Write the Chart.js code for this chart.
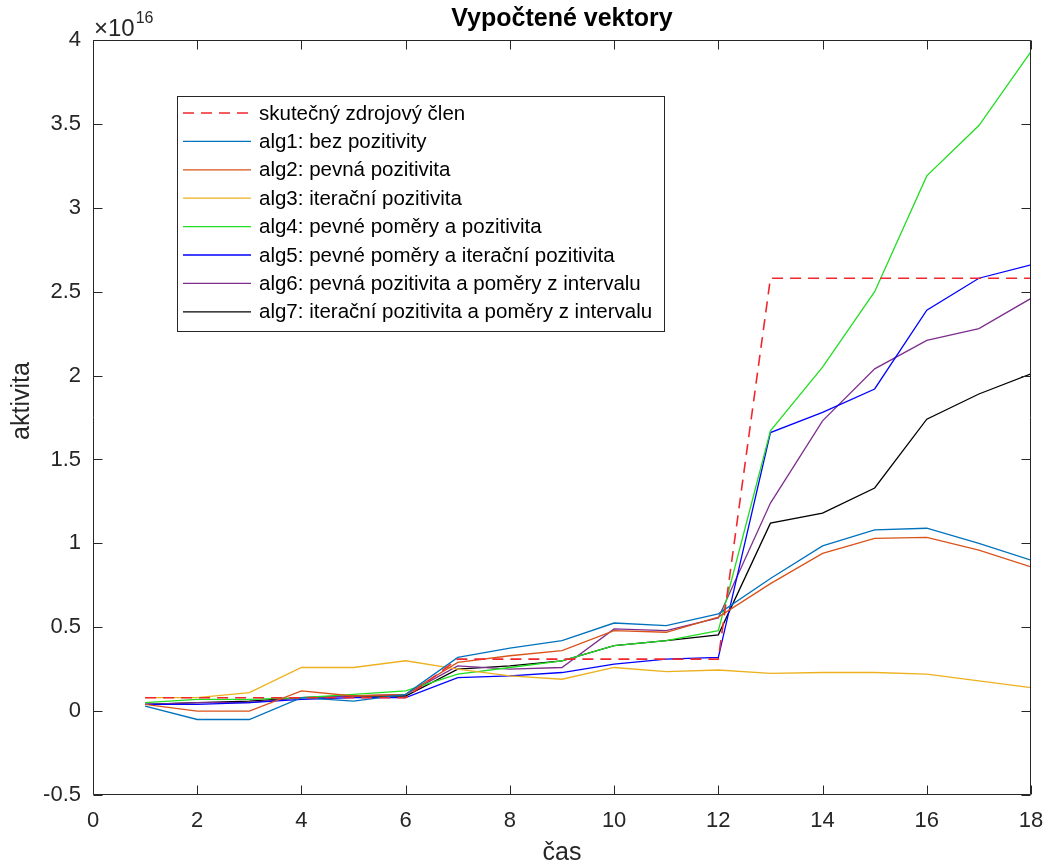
<!DOCTYPE html>
<html>
<head>
<meta charset="utf-8">
<script src="https://cdn.jsdelivr.net/npm/chart.js@4/dist/chart.umd.min.js"></script>
<style>
html,body{margin:0;padding:0;background:#fff;}
#wrap{width:1048px;height:866px;}
</style>
</head>
<body>
<div id="wrap"><canvas id="c" width="1048" height="866"></canvas></div>
<script>
// values are in units of 10^16
const EXPONENT = 16;
const time = [1,2,3,4,5,6,7,8,9,10,11,12,13,14,15,16,17,18];
const source = [0.08,0.08,0.08,0.08,0.08,0.08,0.31,0.31,0.31,0.31,0.31,0.31,2.58,2.58,2.58,2.58,2.58,2.58];
const alg1 = [0.03,-0.05,-0.05,0.08,0.06,0.10,0.32,0.375,0.42,0.525,0.51,0.58,0.79,0.985,1.08,1.09,1.00,0.90];
const alg2 = [0.04,0.00,0.00,0.12,0.09,0.10,0.29,0.33,0.36,0.48,0.47,0.56,0.76,0.94,1.03,1.035,0.96,0.86];
const alg3 = [0.08,0.08,0.11,0.26,0.26,0.30,0.25,0.21,0.19,0.26,0.235,0.245,0.225,0.23,0.23,0.22,0.18,0.14];
const alg4 = [0.05,0.07,0.07,0.08,0.10,0.12,0.22,0.26,0.30,0.39,0.42,0.48,1.67,2.05,2.50,3.19,3.49,3.93];
const alg5 = [0.04,0.04,0.05,0.07,0.08,0.08,0.20,0.21,0.23,0.28,0.31,0.32,1.66,1.78,1.92,2.39,2.58,2.66];
const alg6 = [0.04,0.05,0.05,0.08,0.09,0.10,0.27,0.25,0.26,0.49,0.48,0.555,1.24,1.73,2.04,2.21,2.28,2.46];
const alg7 = [0.04,0.05,0.06,0.08,0.09,0.09,0.25,0.27,0.30,0.39,0.42,0.455,1.12,1.18,1.33,1.74,1.89,2.01];
const labels = [
  'skutečný zdrojový člen',
  'alg1: bez pozitivity',
  'alg2: pevná pozitivita',
  'alg3: iterační pozitivita',
  'alg4: pevné poměry a pozitivita',
  'alg5: pevné poměry a iterační pozitivita',
  'alg6: pevná pozitivita a poměry z intervalu',
  'alg7: iterační pozitivita a poměry z intervalu'
];
const colors = ['#F0282E','#0072BD','#D95319','#EDB120','#22DD22','#0000FF','#7E2F8E','#000000'];
const seriesList = [source, alg1, alg2, alg3, alg4, alg5, alg6, alg7];
const xTicks = [0,2,4,6,8,10,12,14,16,18];
const yTicks = [-0.5,0,0.5,1,1.5,2,2.5,3,3.5,4];
const yLabel = 'aktivita';

const FONT = "'Liberation Sans', Arial, Helvetica, sans-serif";

const datasets = seriesList.map((s, i) => ({
  label: labels[i],
  data: s.map((v, k) => ({x: time[k], y: v})),
  borderColor: colors[i],
  backgroundColor: colors[i],
  borderWidth: i === 0 ? 1.6 : 1.3,
  borderDash: i === 0 ? [11, 7] : [],
  pointRadius: 0,
  fill: false,
  tension: 0
}));
const fmt = v => (Math.round(v * 10) / 10).toString();

const boxPlugin = {
  id: 'box',
  afterDraw(chart) {
    const ctx = chart.ctx;
    const a = chart.chartArea;
    const xs = chart.scales.x, ys = chart.scales.y;
    ctx.save();
    ctx.strokeStyle = '#262626';
    ctx.lineWidth = 1;
    const L = Math.round(a.left) + 0.5, R = Math.round(a.right) - 0.5;
    const T = Math.round(a.top) + 0.5, B = Math.round(a.bottom) - 0.5;
    ctx.beginPath();
    ctx.rect(L, T, R - L, B - T);
    ctx.stroke();
    const tl = 9;
    ctx.beginPath();
    xTicks.forEach(v => {
      const px = Math.round(xs.getPixelForValue(v)) + 0.5;
      ctx.moveTo(px, B); ctx.lineTo(px, B - tl);
      ctx.moveTo(px, T); ctx.lineTo(px, T + tl);
    });
    yTicks.forEach(v => {
      const py = Math.round(ys.getPixelForValue(v)) + 0.5;
      ctx.moveTo(L, py); ctx.lineTo(L + tl, py);
      ctx.moveTo(R, py); ctx.lineTo(R - tl, py);
    });
    ctx.stroke();

    // y axis label
    ctx.save();
    ctx.fillStyle = '#262626';
    ctx.font = '25px ' + FONT;
    ctx.textAlign = 'center';
    ctx.textBaseline = 'middle';
    ctx.translate(22, 401);
    ctx.rotate(-Math.PI / 2);
    ctx.fillText(yLabel, 0, 0);
    ctx.restore();

    // exponent label
    ctx.fillStyle = '#262626';
    ctx.textBaseline = 'alphabetic';
    ctx.textAlign = 'left';
    ctx.font = '24px ' + FONT;
    ctx.fillText('\u00d710', a.left + 1, 36);
    const w = ctx.measureText('\u00d710').width;
    ctx.font = '16px ' + FONT;
    ctx.fillText(String(EXPONENT), a.left + 1 + w + 1, 23);

    // legend
    const lx = 177.5, ly = 96.5, lw = 487, lh = 235;
    ctx.fillStyle = '#ffffff';
    ctx.fillRect(lx, ly, lw, lh);
    ctx.strokeStyle = '#262626';
    ctx.lineWidth = 1;
    ctx.strokeRect(lx, ly, lw, lh);
    ctx.font = '20.5px ' + FONT;
    ctx.textBaseline = 'middle';
    chart.data.datasets.forEach((ds, i) => {
      const yy = 113 + i * 28.4;
      ctx.save();
      ctx.strokeStyle = ds.borderColor;
      ctx.lineWidth = ds.borderWidth;
      ctx.setLineDash(ds.borderDash || []);
      ctx.beginPath();
      ctx.moveTo(183, yy); ctx.lineTo(251, yy);
      ctx.stroke();
      ctx.restore();
      ctx.fillStyle = '#000000';
      ctx.fillText(ds.label, 259, yy + 1);
    });
    ctx.restore();
  }
};

new Chart(document.getElementById('c'), {
  type: 'line',
  data: { datasets },
  options: {
    responsive: false,
    devicePixelRatio: 1,
    animation: false,
    layout: { padding: { left: 0, right: 17, top: 0, bottom: 0 } },
    plugins: {
      legend: { display: false },
      tooltip: { enabled: false },
      title: {
        display: true,
        text: 'Vypočtené vektory',
        fullSize: false,
        color: '#000000',
        font: { family: FONT, size: 25, weight: 'bold', lineHeight: 1.2 },
        padding: { top: 4, bottom: 6 }
      }
    },
    scales: {
      x: {
        type: 'linear',
        min: 0, max: 18,
        afterFit(s) { s.height = 71; s.paddingLeft = 0; s.paddingRight = 0; },
        afterBuildTicks(s) { s.ticks = xTicks.map(v => ({value: v})); },
        grid: { display: false, drawTicks: false },
        border: { display: false },
        ticks: { color: '#262626', padding: 13, maxRotation: 0, autoSkip: false,
                 font: { family: FONT, size: 22 }, callback: v => fmt(v) },
        title: { display: true, text: 'čas', color: '#262626',
                 font: { family: FONT, size: 25, lineHeight: 1.0 }, padding: { top: 0, bottom: 0 } }
      },
      y: {
        type: 'linear',
        min: -0.5, max: 4,
        afterFit(s) { s.width = 93; s.paddingTop = 0; s.paddingBottom = 0; },
        afterBuildTicks(s) { s.ticks = yTicks.map(v => ({value: v})); },
        grid: { display: false, drawTicks: false },
        border: { display: false },
        ticks: { color: '#262626', padding: 12, autoSkip: false,
                 font: { family: FONT, size: 22 }, callback: v => fmt(v) },
        title: { display: false }
      }
    }
  },
  plugins: [boxPlugin]
});
</script>
</body>
</html>
